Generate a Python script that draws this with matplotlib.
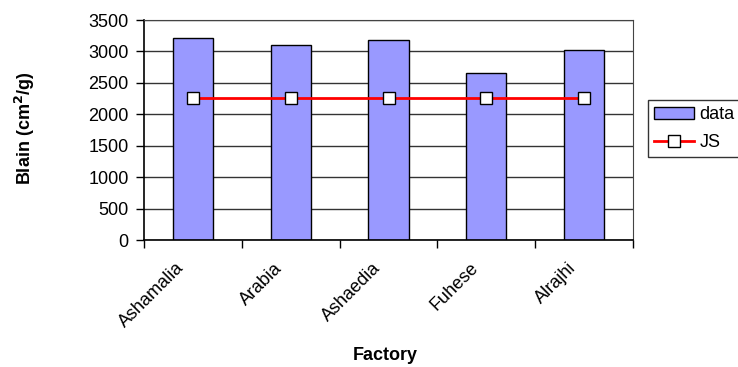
import numpy as np
import matplotlib.pyplot as plt
from matplotlib.ticker import FixedLocator
from matplotlib.transforms import ScaledTranslation

plt.rcParams['font.family'] = ['Liberation Sans', 'DejaVu Sans']

factories = ['Ashamalia', 'Arabia', 'Ashaedia', 'Fuhese', 'Alrajhi']
blain = [3220, 3100, 3180, 2660, 3020]
js = [2260, 2260, 2260, 2260, 2260]

x = np.arange(len(factories))

fig = plt.figure(figsize=(7.38, 3.67), dpi=100)
ax = fig.add_axes([0.195, 0.346, 0.663, 0.5995])

bars = ax.bar(x, blain, width=0.41, color='#9999FF', edgecolor='black', linewidth=1, label='data', zorder=2)
line, = ax.plot(x, js, color='#FF0000', linewidth=2, marker='s', markersize=9,
                markerfacecolor='white', markeredgecolor='black', markeredgewidth=1, label='JS', zorder=3)

ax.set_xlim(-0.5, len(factories) - 0.5)
ax.set_ylim(0, 3500)
ax.set_yticks(np.arange(0, 3501, 500))
ax.yaxis.grid(True, color='#333333', linewidth=1, zorder=0)
ax.set_axisbelow(True)

# labels sit at category centres, tick marks at the boundaries (Excel style)
ax.set_xticks(x)
ax.set_xticklabels(factories, rotation=45, ha='right', va='top', rotation_mode='anchor', fontsize=13)
ax.tick_params(axis='x', which='major', length=0, pad=14)
shift = ScaledTranslation(-17 / 100, 0, fig.dpi_scale_trans)
for lbl in ax.get_xticklabels():
    lbl.set_transform(lbl.get_transform() + shift)
ax.xaxis.set_minor_locator(FixedLocator(np.arange(-0.5, len(factories), 1.0)))
ax.tick_params(axis='x', which='minor', length=6, width=1, color='black')
ax.tick_params(axis='y', length=6, width=1, pad=5, labelsize=13, color='black')

for s in ['top', 'right']:
    ax.spines[s].set_color('#444444')
for s in ['left', 'bottom']:
    ax.spines[s].set_color('black')
    ax.spines[s].set_linewidth(1.2)

fig.text(25 / 738, 0.651, 'Blain (cm$^\\mathbf{2}$/g)', rotation=90, ha='center', va='center',
         fontsize=13, fontweight='bold')
fig.text(385 / 738, 1 - 355 / 367, 'Factory', ha='center', va='center', fontsize=13, fontweight='bold')

leg = fig.legend([bars, line], ['data', 'JS'], loc='upper left',
                 bbox_to_anchor=(648 / 738, 1 - 100 / 367), fontsize=13,
                 frameon=True, fancybox=False, edgecolor='black', handlelength=2.2,
                 borderpad=0.35, labelspacing=0.6, handletextpad=0.3, borderaxespad=0)
leg.get_frame().set_linewidth(1)

fig.savefig('out.png', dpi=100)
